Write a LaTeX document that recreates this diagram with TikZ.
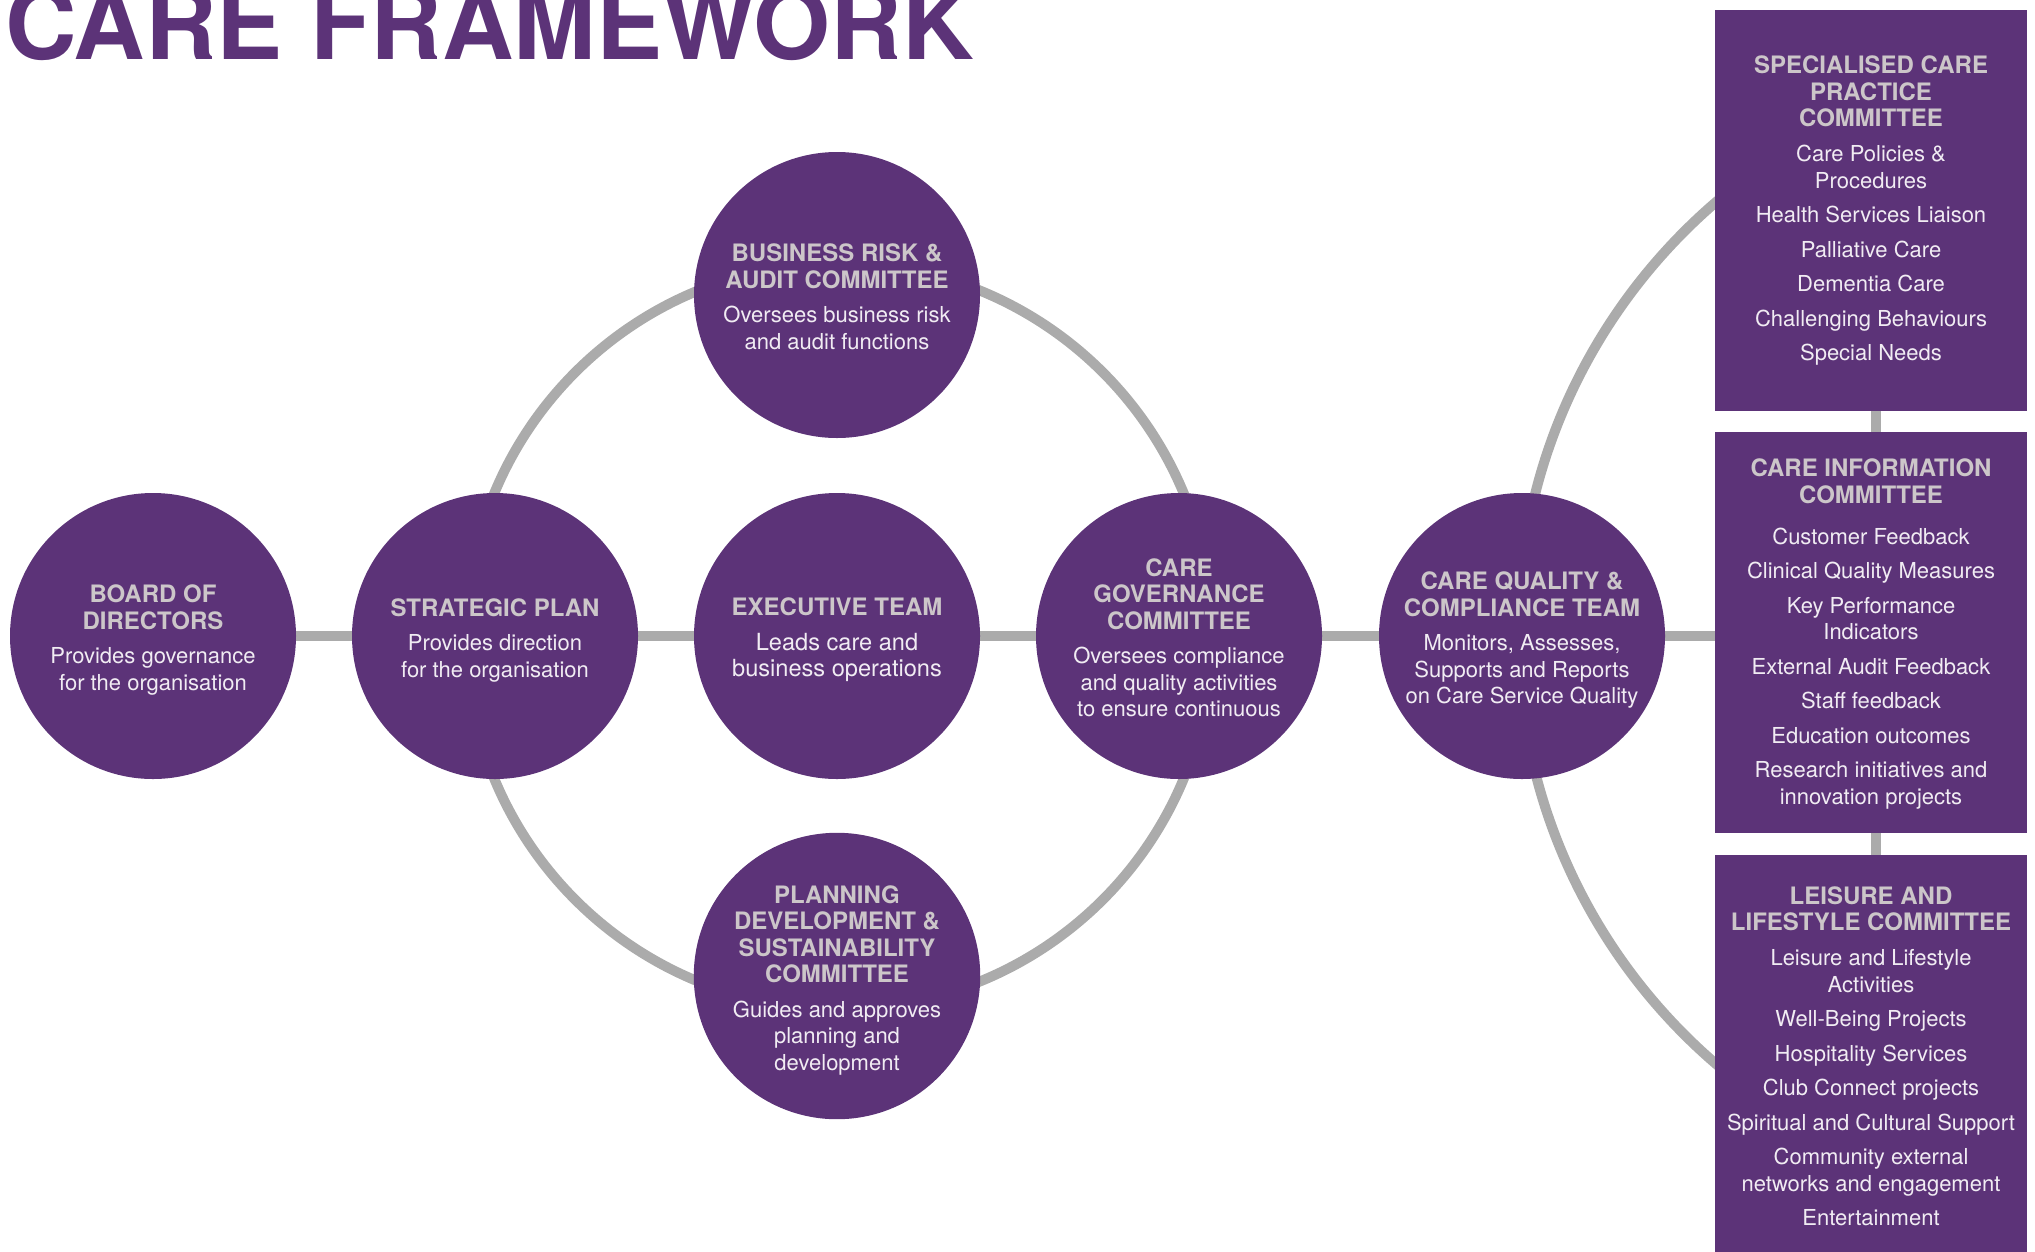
\documentclass[tikz,border=0pt]{standalone}
\usepackage{fontspec}
\setmainfont{TeX Gyre Heros}
\usetikzlibrary{backgrounds}

\definecolor{brandpurple}{HTML}{5C3378}
\definecolor{linkgray}{HTML}{ABABAB}
\definecolor{headgray}{HTML}{CCC6C9}
\definecolor{bodywhite}{HTML}{F1ECF3}

% text styles used inside the shapes
\newcommand\orghead{\fontsize{24}{27}\selectfont\bfseries\color{headgray}}
\newcommand\orgbody{\fontsize{22}{26.5}\selectfont\color{bodywhite}}
\newcommand\orgbodylarge{\fontsize{23.6}{27}\selectfont\color{bodywhite}}
% extra room above the first line of a circle text
\newcommand\toproom{\rule{0pt}{26pt}}
\newcommand\toproomsmall{\rule{0pt}{21pt}}

\tikzset{
  unit/.style={circle, fill=brandpurple, minimum size=286pt, inner sep=0pt,
    align=center, font=\fontsize{22}{26.5}\selectfont},
  panel/.style={rectangle, fill=brandpurple, minimum width=312pt,
    minimum height=401pt, inner sep=0pt, align=center,
    font=\fontsize{22}{26.5}\selectfont},
  link/.style={draw=linkgray, line width=10pt},
}

\begin{document}
\begin{tikzpicture}[x=1pt,y=-1pt]
\useasboundingbox (0,0) rectangle (2035,1251);

% heading
\node[anchor=base west, inner sep=0pt, text=brandpurple,
      font=\fontsize{99}{101}\selectfont\bfseries] (title) at (5,59) {CARE FRAMEWORK};

% main chain of bodies
\node[unit] (board) at (153,636)
  {\toproom\orghead BOARD OF\\\orghead DIRECTORS\\[8pt]
   \orgbody Provides governance\\\orgbody for the organisation};
\node[unit] (strat) at (495,636)
  {\toproom\orghead STRATEGIC PLAN\\[8pt]
   \orgbody Provides direction\\\orgbody for the organisation};
\node[unit] (exec) at (837,636)
  {\toproom\orghead EXECUTIVE TEAM\\[8pt]
   \orgbodylarge Leads care and\\\orgbodylarge business operations};
\node[unit] (gov) at (1179,636)
  {\toproomsmall\orghead CARE\\\orghead GOVERNANCE\\\orghead COMMITTEE\\[8pt]
   \orgbody Oversees compliance\\\orgbody and quality activities\\\orgbody to ensure continuous};
\node[unit] (cq) at (1522,636)
  {\toproom\orghead CARE QUALITY \&\\\orghead COMPLIANCE TEAM\\[8pt]
   \orgbody Monitors, Assesses,\\\orgbody Supports and Reports\\\orgbody on Care Service Quality};

% committees on the ring
\node[unit] (risk) at (837,295)
  {\toproomsmall\orghead BUSINESS RISK \&\\\orghead AUDIT COMMITTEE\\[8pt]
   \orgbody Oversees business risk\\\orgbody and audit functions};
\node[unit] (plan) at (837,976)
  {\toproom\orghead PLANNING\\\orghead DEVELOPMENT \&\\\orghead SUSTAINABILITY\\\orghead COMMITTEE\\[8pt]
   \orgbody Guides and approves\\\orgbody planning and\\\orgbody development};

% committee panels
\node[panel] (spec) at (1871,210.5)
  {\orghead SPECIALISED CARE\\\orghead PRACTICE\\\orghead COMMITTEE\\[8.5pt]
   \orgbody Care Policies \&\\\orgbody Procedures\\[8pt]
   \orgbody Health Services Liaison\\[8pt]
   \orgbody Palliative Care\\[8pt]
   \orgbody Dementia Care\\[8pt]
   \orgbody Challenging Behaviours\\[8pt]
   \orgbody Special Needs};
\node[panel] (info) at (1871,632.5)
  {\rule{0pt}{21pt}\orghead CARE INFORMATION\\\orghead COMMITTEE\\[14.5pt]
   \orgbody Customer Feedback\\[8pt]
   \orgbody Clinical Quality Measures\\[8pt]
   \orgbody Key Performance\\\orgbody Indicators\\[8pt]
   \orgbody External Audit Feedback\\[8pt]
   \orgbody Staff feedback\\[8pt]
   \orgbody Education outcomes\\[8pt]
   \orgbody Research initiatives and\\\orgbody innovation projects};
\node[panel, minimum height=403pt] (leisure) at (1871,1056.5)
  {\orghead LEISURE AND\\\orghead LIFESTYLE COMMITTEE\\[8.5pt]
   \orgbody Leisure and Lifestyle\\\orgbody Activities\\[8pt]
   \orgbody Well-Being Projects\\[8pt]
   \orgbody Hospitality Services\\[8pt]
   \orgbody Club Connect projects\\[8pt]
   \orgbody Spiritual and Cultural Support\\[8pt]
   \orgbody Community external\\\orgbody networks and engagement\\[8pt]
   \orgbody Entertainment};

\coordinate (ringL) at (839,636);
\coordinate (ringR) at (2086,633);

% connectors behind the shapes
\begin{scope}[on background layer]
  \draw[link] (ringL) circle[radius=373pt];
  \begin{scope}
    \clip (1300,0) rectangle (1715,1251);
    \draw[link] (ringR) circle[radius=568pt];
  \end{scope}
  \draw[link] (board) -- (strat);
  \draw[link] (strat) -- (exec);
  \draw[link] (exec) -- (gov);
  \draw[link] (gov) -- (cq);
  \draw[link] (cq.east) -- (cq.east -| info.west);
  \draw[link] ([xshift=5pt]spec.south) -- ([xshift=5pt]spec.south |- info.north);
  \draw[link] ([xshift=5pt]info.south) -- ([xshift=5pt]info.south |- leisure.north);
\end{scope}
\end{tikzpicture}
\end{document}
